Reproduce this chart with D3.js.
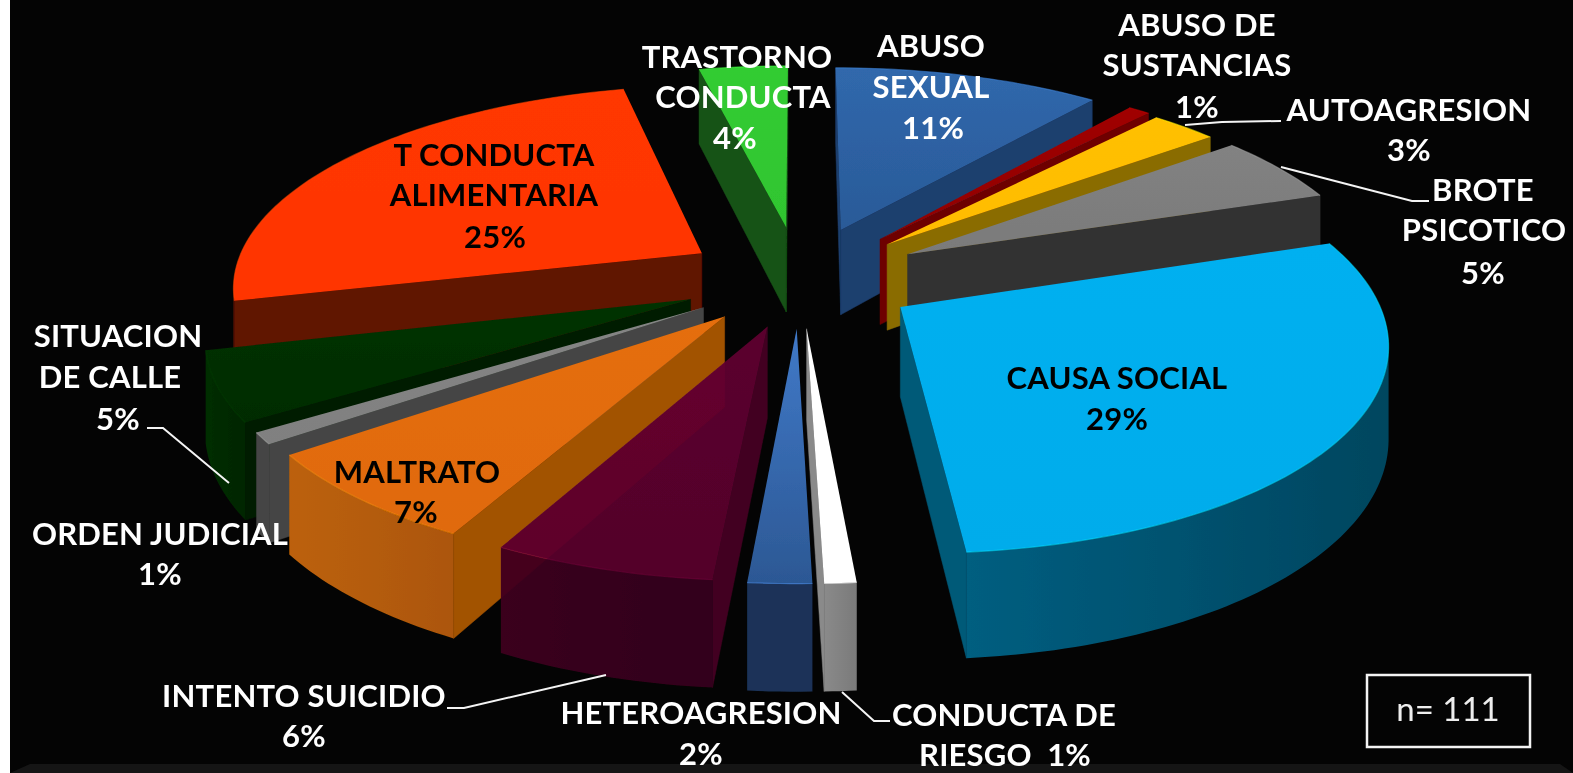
<!DOCTYPE html>
<html><head><meta charset="utf-8">
<style>html,body{margin:0;padding:0;background:#fff;overflow:hidden}svg{display:block}</style>
<script src="https://d3js.org/d3.v7.min.js"></script></head>
<body><svg id="c" width="1573" height="773"></svg>
<script>
// ---- data ----
const categories = ["ABUSO SEXUAL","ABUSO DE SUSTANCIAS","AUTOAGRESION","BROTE PSICOTICO","CAUSA SOCIAL","CONDUCTA DE RIESGO","HETEROAGRESION","INTENTO SUICIDIO","MALTRATO","ORDEN JUDICIAL","SITUACION DE CALLE","T CONDUCTA ALIMENTARIA","TRASTORNO CONDUCTA"];
const values = [12,1,3,6,32,1,2,7,8,1,6,28,4]; // counts, n = 111; they round to the printed percentages
const percents = [11,1,3,5,29,1,2,6,7,1,5,25,4];
const sampleLabel = "n= 111";
// ---- styles ----
const topColors   = [["#3068AC","#2A5A98"],["#A00000","#900000"],["#FFC000","#FFBC00"],["#828282","#7A7A7A"],["#00B0F0","#00ACEB"],["#FFFFFF","#FFFFFF"],["#4079C8","#2C5894"],["#610031","#5A002D"],["#E56E08","#E06A08"],["#858585","#808080"],["#023202","#022C02"],["#FF3700","#FF3500"],["#33CC33","#2FC52F"]];
const wallColors  = ["#1D3F6E","#6E0000","#8A6C00","#333333","#005A78","#8A8A8A","#1B3358","#480025","#A25206","#454545","#011D01","#611300","#165216"];
const outerColors = [["#1D3F6E","#1D3F6E"],["#6E0000","#6E0000"],["#8A6C00","#8A6C00"],["#333333","#333333"],["#005E80","#00465F"],["#8A8A8A","#7A7A7A"],["#1B3358","#1B3358"],["#3F0020","#36001B"],["#BC6108","#AC5607"],["#454545","#454545"],["#012E01","#012501"],["#611300","#611300"],["#165216","#165216"]];
const opacities = [1,1,1,1,1,1,1,0.93,1,1,1,1,1];
const explode = [0.27,0.27,0.26,0.265,0.25,0.24,0.24,0.24,0.24,0.245,0.25,0.25,0.27];
// ---- label layout ----
const labelLines = [
 {fill:"#fff",lines:[["ABUSO",931,57],["SEXUAL",931,98],[percents[0]+"%",933,139]]},
 {fill:"#fff",lines:[["ABUSO DE",1197,36],["SUSTANCIAS",1197,76],[percents[1]+"%",1197,118]]},
 {fill:"#fff",lines:[["AUTOAGRESION",1409,121],[percents[2]+"%",1409,161]]},
 {fill:"#fff",lines:[["BROTE",1483,201],["PSICOTICO",1484,241],[percents[3]+"%",1483,284]]},
 {fill:"#050505",lines:[["CAUSA SOCIAL",1117,389],[percents[4]+"%",1117,430]]},
 {fill:"#fff",lines:[["CONDUCTA DE",1004,726],["RIESGO  "+percents[5]+"%",1005,766]]},
 {fill:"#fff",lines:[["HETEROAGRESION",701,724],[percents[6]+"%",701,765]]},
 {fill:"#fff",lines:[["INTENTO SUICIDIO",304,707],[percents[7]+"%",304,747]]},
 {fill:"#050505",lines:[["MALTRATO",417,483],[percents[8]+"%",416,523]]},
 {fill:"#fff",lines:[["ORDEN JUDICIAL",160,545],[percents[9]+"%",160,585]]},
 {fill:"#fff",lines:[["SITUACION",118,347],["DE CALLE",110,388],[percents[10]+"%",118,430]]},
 {fill:"#050505",lines:[["T CONDUCTA",494,166],["ALIMENTARIA",494,206],[percents[11]+"%",495,248]]},
 {fill:"#fff",lines:[["TRASTORNO",737,68],["CONDUCTA",743,108],[percents[12]+"%",735,149]]}
];
const leaders = [
 [[1185,125],[1222,122],[1281,121]],
 [[1281,167],[1412,201],[1429,201]],
 [[147,428],[163,428],[229,483]],
 [[447,708],[464,708],[606,675]],
 [[842,692],[874,721],[890,721]]
];
// ---- geometry ----
const cx=800, cy=279, rx=470, ry=200, k=0.15, depth=88;
const sx=d3.scaleLinear().domain([-1,1]).range([cx-rx,cx+rx]);
const sy=d3.scaleLinear().domain([-1,1]).range([cy-ry,cy+ry]);
const svg=d3.select("#c");
const defs=svg.append("defs");
defs.append("filter").attr("id","soft").attr("x","-5%").attr("y","-5%").attr("width","110%").attr("height","110%")
  .append("feGaussianBlur").attr("stdDeviation",0.55);
svg.append("rect").attr("width",1573).attr("height",773).attr("fill","#fff");
svg.append("rect").attr("x",10).attr("y",0).attr("width",1563).attr("height",773).attr("fill","#040404");
svg.append("path").attr("d","M10 773L30 764H1560L1573 773Z").attr("fill","#151515");
const root=svg.append("g").attr("filter","url(#soft)");
const line=d3.line();
const arcs=d3.pie().sort(null).value(d=>d)(values);
function proj(X,Y,z){const s=1/(1-k*Y);return [sx(X*s),sy(Y*s)+z*depth*s];}
function grad(id,cols,x2,y2){const g=defs.append("linearGradient").attr("id",id).attr("x1",0).attr("y1",0).attr("x2",x2).attr("y2",y2);
  g.append("stop").attr("offset",0).attr("stop-color",cols[0]);g.append("stop").attr("offset",1).attr("stop-color",cols[1]);return `url(#${id})`;}
const order=arcs.map((a,i)=>i).sort((a,b)=>{
  const m=i=>Math.cos((arcs[i].startAngle+arcs[i].endAngle)/2);return m(b)-m(a);});
order.forEach(i=>{
  const a=arcs[i], mid=(a.startAngle+a.endAngle)/2, e=explode[i];
  const ox=e*Math.sin(mid), oy=-e*Math.cos(mid);
  const n=Math.max(4,Math.ceil((a.endAngle-a.startAngle)/0.02));
  const ts=d3.range(n+1).map(j=>a.startAngle+(a.endAngle-a.startAngle)*j/n);
  const rim=z=>ts.map(t=>proj(ox+Math.sin(t),oy-Math.cos(t),z));
  const A=proj(ox,oy,0),A2=proj(ox,oy,1),R0=rim(0),R1=rim(1);
  const g=root.append("g").attr("class","slice").attr("opacity",opacities[i]);
  const C=proj(ox+Math.sin(mid)*0.7,oy-Math.cos(mid)*0.7,0);
  const visible=B=>{ if(Math.abs(B[0]-A[0])<1e-6) return false;
    const ly=A[1]+(C[0]-A[0])*(B[1]-A[1])/(B[0]-A[0]); return C[1]<ly; };
  [[R0[0],R1[0]],[R0[n],R1[n]]].forEach(([B,B2])=>{
    if(visible(B)) g.append("path").attr("d",line([A,B,B2,A2])+"Z").attr("fill",wallColors[i]).attr("stroke",wallColors[i]).attr("stroke-width",0.5);
  });
  const segs=[];let cur=null;
  for(let j=0;j<n;j++){ if(R0[j+1][0]<R0[j][0]){ if(!cur){cur=[j,j+1];segs.push(cur);} else cur[1]=j+1; } else cur=null; }
  segs.forEach((sg,q)=>{
    const up=R0.slice(sg[0],sg[1]+1), dn=R1.slice(sg[0],sg[1]+1).reverse();
    g.append("path").attr("d",line(up.concat(dn))+"Z").attr("fill",grad(`o${i}_${q}`,outerColors[i],1,0));
  });
  g.append("path").attr("d",line([A].concat(R0))+"Z").attr("fill",grad(`t${i}`,topColors[i],0,1));
  g.append("path").attr("d",line(R0)).attr("fill","none").attr("stroke",d3.color(topColors[i][0]).brighter(0.7)).attr("stroke-width",1.2).attr("stroke-opacity",0.55);
});
leaders.forEach(l=>root.append("path").attr("d",line(l)).attr("fill","none").attr("stroke","#f4f4f4").attr("stroke-width",2));
const FONT="Lato, Carlito, sans-serif";
labelLines.forEach(L=>L.lines.forEach(([t,x,y])=>{
  root.append("text").attr("x",x).attr("y",y).attr("text-anchor","middle").style("white-space","pre")
   .attr("font-family",FONT).attr("font-weight",700).attr("font-size",31).attr("letter-spacing",0.2).attr("fill",L.fill).text(t);
}));
root.append("rect").attr("x",1367).attr("y",675).attr("width",163).attr("height",72).attr("fill","none").attr("stroke","#f4f4f4").attr("stroke-width",2.5);
root.append("text").attr("x",1448).attr("y",721).attr("text-anchor","middle").attr("font-family",FONT).attr("font-size",33).attr("fill","#eee").text(sampleLabel);
</script></body></html>
